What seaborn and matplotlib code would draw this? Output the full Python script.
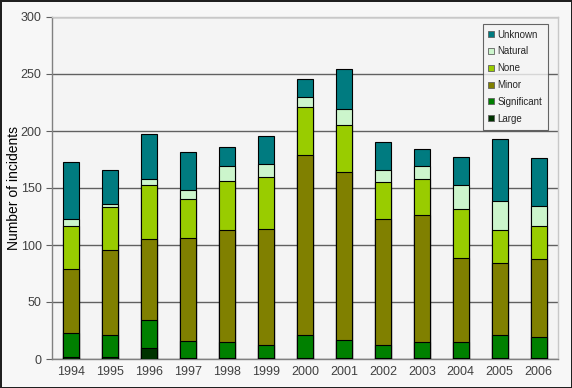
import numpy as np
import pandas as pd
import seaborn as sns
import matplotlib.pyplot as plt
from matplotlib.lines import Line2D

years = ['1994', '1995', '1996', '1997', '1998', '1999', '2000',
         '2001', '2002', '2003', '2004', '2005', '2006']
large = [2, 2, 10, 1, 1, 1, 1, 1, 1, 1, 1, 1, 1]
significant = [21, 19, 24, 15, 14, 11, 20, 16, 11, 14, 14, 20, 18]
minor = [56, 75, 71, 90, 98, 102, 158, 147, 111, 111, 74, 63, 69]
none = [38, 37, 48, 34, 43, 46, 42, 41, 32, 32, 43, 29, 29]
natural = [6, 3, 5, 8, 13, 11, 9, 14, 11, 11, 21, 26, 17]
unknown = [50, 30, 39, 34, 17, 25, 16, 35, 24, 15, 24, 54, 42]

labels = ['Large', 'Significant', 'Minor', 'None', 'Natural', 'Unknown']
colors = ['#003300', '#008000', '#808000', '#99cc00', '#ccf5cc', '#007b80']

df = pd.DataFrame({'year': years, 'Large': large, 'Significant': significant,
                   'Minor': minor, 'None': none, 'Natural': natural,
                   'Unknown': unknown})
# cumulative tops for overlay stacking
cum = df[labels].cumsum(axis=1)
cum['year'] = df['year']

sns.set_style('white')
plt.rcParams['font.family'] = ['Liberation Sans', 'DejaVu Sans']

fig = plt.figure(figsize=(5.72, 3.88), dpi=100, facecolor='#f7f7f7',
                 edgecolor='#202020', linewidth=2)
ax = fig.add_axes([52 / 572, 29 / 388, 506 / 572, 342 / 388])
ax.set_facecolor('#f4f4f4')

for lab, col in reversed(list(zip(labels, colors))):
    sns.barplot(data=cum, x='year', y=lab, color=col, saturation=1,
                edgecolor='black', linewidth=0.8, width=0.41, ax=ax, zorder=3)

ax.set_ylim(0, 300)
ax.set_xlim(-0.5, len(years) - 0.5)
ax.set_yticks(np.arange(0, 301, 50))
ax.yaxis.grid(True, color='#606060', linewidth=1)
ax.set_axisbelow(True)
ax.set_xlabel('')
ax.set_ylabel('Number of incidents', fontsize=10, color='black')
ax.yaxis.set_label_coords(-0.062, 0.5)

ax.set_xticks(np.arange(len(years)))
ax.set_xticklabels(years)
ax.set_xticks(np.arange(len(years) + 1) - 0.5, minor=True)
ax.tick_params(axis='x', which='major', length=0, labelsize=9,
               labelcolor='#404040', pad=5)
ax.tick_params(axis='x', which='minor', length=4, color='#606060',
               direction='out')
ax.tick_params(axis='y', length=4, color='#606060', labelsize=9,
               labelcolor='#404040', direction='out', left=True)

for s in ['left', 'bottom']:
    ax.spines[s].set_color('#808080')
    ax.spines[s].set_linewidth(1)
for s in ['top', 'right']:
    ax.spines[s].set_color('#c8c8c8')
    ax.spines[s].set_linewidth(1)

handles = [Line2D([], [], marker='s', linestyle='', markersize=5,
                  markerfacecolor=c, markeredgecolor='#606060',
                  markeredgewidth=0.6)
           for c in reversed(colors)]
leg = ax.legend(handles, list(reversed(labels)), loc='upper right',
                bbox_to_anchor=(0.98, 0.98), borderaxespad=0, fontsize=7,
                frameon=True, fancybox=False, labelspacing=0.7,
                handlelength=0.6, handletextpad=0.3, borderpad=0.6)
leg.get_frame().set_edgecolor('#404040')
leg.get_frame().set_facecolor('#f4f4f4')
leg.get_frame().set_linewidth(0.8)
leg.set_zorder(5)

fig.savefig('out.png', dpi=100, facecolor=fig.get_facecolor(),
            edgecolor=fig.get_edgecolor())
